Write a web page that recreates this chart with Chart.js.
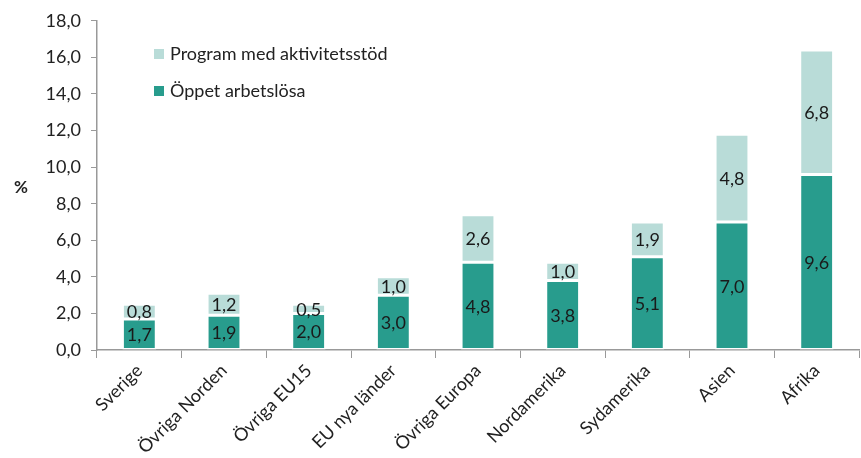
<!DOCTYPE html>
<html>
<head>
<meta charset="utf-8">
<script src="https://cdn.jsdelivr.net/npm/chart.js@4/dist/chart.umd.min.js"></script>
<style>
  html, body { margin: 0; padding: 0; background: #fff; }
  #wrap { width: 861px; height: 458px; }
</style>
</head>
<body>
<div id="wrap"><canvas id="my-chart"></canvas></div>
<script>
const categories = ['Sverige', 'Övriga Norden', 'Övriga EU15', 'EU nya länder', 'Övriga Europa', 'Nordamerika', 'Sydamerika', 'Asien', 'Afrika']
const oppetArbetslosa = [1.7, 1.9, 2.0, 3.0, 4.8, 3.8, 5.1, 7.0, 9.6]
const programAktivitetsstod = [0.8, 1.2, 0.5, 1.0, 2.6, 1.0, 1.9, 4.8, 6.8]
const yTicks = [0, 2, 4, 6, 8, 10, 12, 14, 16, 18]

const darkTeal = 'rgb(40, 156, 141)'
const lightTeal = 'rgb(185, 220, 216)'
const fontFamily = 'Lato, "Open Sans", sans-serif'
const fmt = v => v.toFixed(1).replace('.', ',')

// labels inside the bars, legend and the "%" title
const extras = {
    id: 'extras',
    afterDatasetsDraw(chart) {
        const ctx = chart.ctx
        ctx.save()
        ctx.fillStyle = '#1a1a1a'
        ctx.font = '18px ' + fontFamily
        ctx.textAlign = 'center'
        ctx.textBaseline = 'middle'
        chart.data.datasets.forEach((ds, i) => {
            chart.getDatasetMeta(i).data.forEach((bar, j) => {
                const y = (bar.y + bar.base) / 2
                ctx.fillText(fmt(ds.data[j]), bar.x, y + 1)
            })
        })

        // legend
        const items = [
            { text: 'Program med aktivitetsstöd', color: lightTeal, y: 54 },
            { text: 'Öppet arbetslösa', color: darkTeal, y: 91 }
        ]
        ctx.textAlign = 'left'
        ctx.font = '18px ' + fontFamily
        items.forEach(it => {
            ctx.fillStyle = it.color
            ctx.fillRect(154, it.y - 5, 10, 10)
            ctx.fillStyle = '#222'
            ctx.fillText(it.text, 170, it.y)
        })

        ctx.font = 'bold 17px ' + fontFamily
        ctx.textAlign = 'center'
        ctx.fillText('%', 21, 188)
        ctx.restore()
    }
}

const ctxBar = document.getElementById('my-chart').getContext('2d')
new Chart(ctxBar, {
    type: 'bar',
    data: {
        labels: categories,
        datasets: [
            {
                label: 'Öppet arbetslösa',
                data: oppetArbetslosa,
                backgroundColor: darkTeal,
                borderColor: '#fff',
                borderWidth: 1.5,
                borderSkipped: false,
                barPercentage: 0.4,
                categoryPercentage: 1
            },
            {
                label: 'Program med aktivitetsstöd',
                data: programAktivitetsstod,
                backgroundColor: lightTeal,
                borderColor: '#fff',
                borderWidth: 1.5,
                borderSkipped: false,
                barPercentage: 0.4,
                categoryPercentage: 1
            }
        ]
    },
    options: {
        responsive: true,
        maintainAspectRatio: false,
        animation: false,
        layout: { padding: { top: 20, right: 2, left: 0, bottom: 0 } },
        plugins: {
            legend: { display: false },
            tooltip: { enabled: false }
        },
        scales: {
            x: {
                stacked: true,
                offset: true,
                afterFit(axis) { axis.height = 108 },
                grid: {
                    offset: true,
                    drawOnChartArea: false,
                    drawTicks: true,
                    tickLength: 8,
                    color: '#999'
                },
                border: { color: '#999', width: 1.5 },
                ticks: {
                    color: '#222',
                    font: { family: fontFamily, size: 18 },
                    maxRotation: 45,
                    minRotation: 45,
                    padding: 2
                }
            },
            y: {
                stacked: true,
                min: 0,
                max: 18,
                afterBuildTicks(axis) {
                    axis.ticks = yTicks.map(v => ({ value: v }))
                },
                afterFit(axis) { axis.width = 97 },
                grid: {
                    drawOnChartArea: false,
                    drawTicks: true,
                    tickLength: 6,
                    color: '#999'
                },
                border: { color: '#999', width: 1.5 },
                ticks: {
                    color: '#222',
                    font: { family: fontFamily, size: 18 },
                    padding: 10,
                    callback: v => fmt(v)
                }
            }
        }
    },
    plugins: [extras]
})
</script>
</body>
</html>
